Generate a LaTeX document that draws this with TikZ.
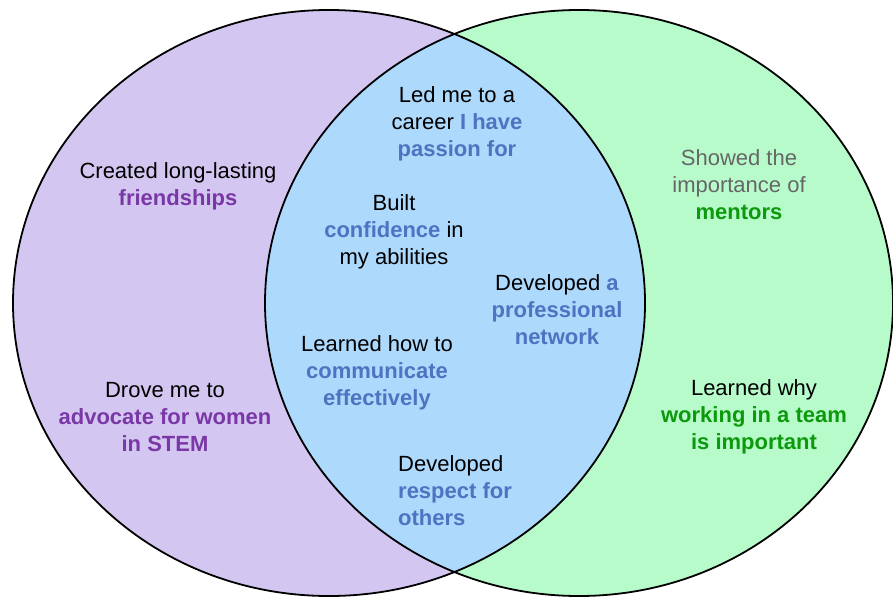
\documentclass[tikz,border=0pt]{standalone}
\usepackage{fontspec}
\setmainfont{Liberation Sans}
\usetikzlibrary{positioning}
\definecolor{lav}{HTML}{D3C7F2}
\definecolor{mint}{HTML}{B7FBCB}
\definecolor{sky}{HTML}{ADD9FC}
\definecolor{pur}{HTML}{7A37A6}
\definecolor{blu}{HTML}{4F73C0}
\definecolor{grn}{HTML}{0C990C}
\definecolor{mut}{HTML}{666666}
\newcommand{\inpur}[1]{\textcolor{pur}{\textbf{#1}}}
\newcommand{\inblu}[1]{\textcolor{blu}{\textbf{#1}}}
\newcommand{\ingrn}[1]{\textcolor{grn}{\textbf{#1}}}
\tikzset{
  rim/.style={draw=black,line width=1.8pt},
  txt/.style={align=center,inner sep=0pt,font=\fontsize{22}{27}\selectfont},
  txtl/.style={txt,align=left},
}

\begin{document}
\begin{tikzpicture}[x=1pt,y=-1pt]
\useasboundingbox (0,0) rectangle (893,599);
% the two sets and their overlap
\fill[lav] (329,303) ellipse [x radius=316, y radius=293];
\fill[mint] (579,303) ellipse [x radius=314, y radius=293];
\begin{scope}
  \clip (329,303) ellipse [x radius=316, y radius=293];
  \fill[sky] (579,303) ellipse [x radius=314, y radius=293];
\end{scope}
\draw[rim] (329,303) ellipse [x radius=316, y radius=293];
\draw[rim] (579,303) ellipse [x radius=314, y radius=293];
% left only
\node[txt] (friend) at (178,186) {Created long-lasting\\ \inpur{friendships}};
\node[txt] (advoc) at (165,417) {Drove me to\\ \inpur{advocate for women}\\ \inpur{in STEM}};
% both
\node[txt] (career) at (457,124) {Led me to a\\ career \inblu{I have}\\ \inblu{passion for}};
\node[txt] (conf) at (394,232) {Built\\ \inblu{confidence} in\\ my abilities};
\node[txt] (netw) at (557,310) {Developed \inblu{a}\\ \inblu{professional}\\ \inblu{network}};
\node[txt] (comm) at (377,373) {Learned how to\\ \inblu{communicate}\\ \inblu{effectively}};
\node[txtl,anchor=west] (resp) at (398,491) {Developed\\ \inblu{respect for}\\ \inblu{others}};
% right only
\node[txt,text=mut] (mentor) at (739,185) {Showed the\\ importance of\\ \ingrn{mentors}};
\node[txt] (team) at (754,417) {Learned why\\ \ingrn{working in a team}\\ \ingrn{is important}};
\end{tikzpicture}
\end{document}
